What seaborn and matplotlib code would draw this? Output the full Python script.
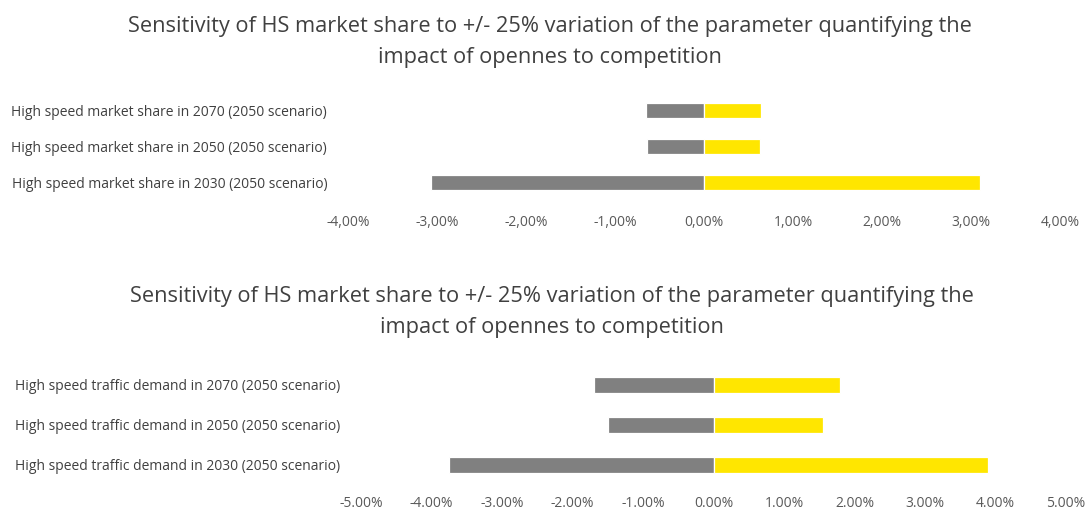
"""
Tornado charts: sensitivity of HS market share / traffic demand
to a +/- 25% variation of the openness-to-competition parameter.
"""

import numpy as np
import pandas as pd
import matplotlib
matplotlib.use("Agg")
import matplotlib.pyplot as plt
from matplotlib.ticker import FuncFormatter, MultipleLocator
import seaborn as sns

# ---- data (percent) ----
share_labels = [
    "High speed market share in 2070 (2050 scenario)",
    "High speed market share in 2050 (2050 scenario)",
    "High speed market share in 2030 (2050 scenario)",
]
share_minus = [-0.65, -0.64, -3.07]
share_plus = [0.64, 0.63, 3.10]

demand_labels = [
    "High speed traffic demand in 2070 (2050 scenario)",
    "High speed traffic demand in 2050 (2050 scenario)",
    "High speed traffic demand in 2030 (2050 scenario)",
]
demand_minus = [-1.70, -1.49, -3.75]
demand_plus = [1.79, 1.56, 3.90]

title = ("Sensitivity of HS market share to +/- 25% variation of the parameter quantifying the\n"
         "impact of opennes to competition")

GREY = "#808080"
YELLOW = "#FFE600"
TEXT = "#404040"
TICK = "#595959"

sns.set_theme(style="white")
plt.rcParams['font.family'] = ['Open Sans', 'DejaVu Sans']


def long_frame(labels, minus, plus):
    return pd.DataFrame({
        "label": labels * 2,
        "value": list(minus) + list(plus),
        "side": ["minus"] * len(labels) + ["plus"] * len(labels),
    })


def draw_tornado(ax, labels, minus, plus, lim, decimal, bar_width, xpad):
    df = long_frame(labels, minus, plus)
    sns.barplot(data=df, x="value", y="label", hue="side", order=labels,
                hue_order=["minus", "plus"], palette={"minus": GREY, "plus": YELLOW},
                dodge=False, orient="h", width=bar_width, edgecolor="white",
                linewidth=0.9, saturation=1, legend=False, ax=ax)
    ax.set_xlim(-lim, lim)
    ax.xaxis.set_major_locator(MultipleLocator(1))
    ax.xaxis.set_major_formatter(FuncFormatter(
        lambda v, p: f"{v:.2f}%".replace(".", decimal)))
    ax.set_xlabel("")
    ax.set_ylabel("")
    for s in ax.spines.values():
        s.set_visible(False)
    ax.tick_params(axis="x", length=0, pad=xpad, labelsize=10, colors=TICK)
    ax.tick_params(axis="y", length=0, pad=15, labelsize=10, colors=TEXT)
    ax.grid(False)


fig = plt.figure(figsize=(10.87, 5.13), dpi=100)

ax1 = fig.add_axes([0.3202, 0.6101, 0.655, 0.2086])
draw_tornado(ax1, share_labels, share_minus, share_plus, 4, ",", 0.42, 11)

ax2 = fig.add_axes([0.3321, 0.0546, 0.6486, 0.2339])
draw_tornado(ax2, demand_labels, demand_minus, demand_plus, 5, ".", 0.40, 8)

fig.text(0.506, 1 - 42 / 513, title, ha="center", va="center",
         fontsize=15.7, color=TEXT, linespacing=1.6)
fig.text(0.508, 1 - 312 / 513, title, ha="center", va="center",
         fontsize=15.7, color=TEXT, linespacing=1.6)

fig.savefig("out.png", dpi=100)
plt.close(fig)
